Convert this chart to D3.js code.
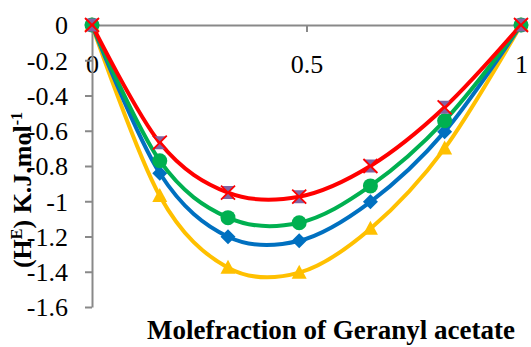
<!DOCTYPE html>
<html>
<head>
<meta charset="utf-8">
<script src="https://cdn.jsdelivr.net/npm/d3@7"></script>
<style>
  body { margin: 0; background: #fff; }
  text { font-family: "Liberation Serif", "Times New Roman", serif; }
</style>
</head>
<body>
<div id="chart"></div>
<script>
// mole fraction of geranyl acetate
var moleFrac = [0, 0.158, 0.317, 0.483, 0.649, 0.822, 1];

// excess enthalpy series (KJ/mol)
var hYellow = [0, -0.970, -1.377, -1.405, -1.156, -0.700, 0];
var hBlue   = [0, -0.841, -1.201, -1.224, -1.003, -0.605, 0];
var hGreen  = [0, -0.770, -1.093, -1.122, -0.913, -0.543, 0];
var hRed    = [0, -0.668, -0.951, -0.974, -0.800, -0.467, 0];

var xTicks = [0, 0.5, 1];
var xTickLabels = ["0", "0.5", "1"];
var yTicks = [0, -0.2, -0.4, -0.6, -0.8, -1, -1.2, -1.4, -1.6];
var yTickLabels = ["0", "-0.2", "-0.4", "-0.6", "-0.8", "-1", "-1.2", "-1.4", "-1.6"];

var svgWidth = 531, svgHeight = 347;
var axisColor = "#898989";
var serif = "'Liberation Serif', 'Times New Roman', serif";

var svg = d3.select("#chart").append("svg")
    .attr("width", svgWidth)
    .attr("height", svgHeight);

var x = d3.scaleLinear().domain([0, 1]).range([92, 521]);
var y = d3.scaleLinear().domain([0, -1.6]).range([25, 307]);

// x axis sits at y = 0 (top)
var xAxis = svg.append("g")
    .attr("transform", "translate(0," + y(0) + ")")
    .call(d3.axisBottom(x)
      .tickValues(xTicks)
      .tickFormat(function(d, i) { return xTickLabels[i]; })
      .tickSize(7)
      .tickSizeOuter(0)
      .tickPadding(23));

var yAxis = svg.append("g")
    .attr("transform", "translate(" + x(0) + ",0)")
    .call(d3.axisLeft(y)
      .tickValues(yTicks)
      .tickFormat(function(d, i) { return yTickLabels[i]; })
      .tickSize(7)
      .tickSizeOuter(0)
      .tickPadding(17));

[xAxis, yAxis].forEach(function(g) {
  g.attr("font-family", serif).attr("font-size", 26);
  g.select(".domain").attr("stroke", axisColor).attr("stroke-width", 2);
  g.selectAll(".tick line").attr("stroke", axisColor).attr("stroke-width", 2);
  g.selectAll(".tick text").attr("fill", "#000");
});
// the 0 tick of the x axis is hidden by the y axis in the original
xAxis.selectAll(".tick line").filter(function(d) { return d === 0; }).remove();
yAxis.selectAll(".tick text").attr("dy", "0.34em");

var line = d3.line()
    .x(function(d) { return x(d[0]); })
    .y(function(d) { return y(d[1]); })
    .curve(d3.curveCatmullRom.alpha(0));

var series = [
  {vals: hYellow, color: "#FFC000", marker: "triangle"},
  {vals: hBlue,   color: "#0070C0", marker: "diamond"},
  {vals: hGreen,  color: "#00B050", marker: "circle"},
  {vals: hRed,    color: "#FF0000", marker: "cross"}
];

series.forEach(function(s) {
  var pts = moleFrac.map(function(m, i) { return [m, s.vals[i]]; });
  var g = svg.append("g");

  g.append("path")
    .datum(pts)
    .attr("fill", "none")
    .attr("stroke", s.color)
    .attr("stroke-width", 4)
    .attr("d", line);

  var mk = g.selectAll(".pt").data(pts).enter().append("g")
    .attr("class", "pt")
    .attr("transform", function(d) { return "translate(" + x(d[0]) + "," + y(d[1]) + ")"; });

  if (s.marker === "circle") {
    mk.append("circle").attr("r", 7.5).attr("fill", s.color);
  } else if (s.marker === "diamond") {
    mk.append("path").attr("d", "M0,-7.5L7.5,0L0,7.5L-7.5,0Z").attr("fill", s.color);
  } else if (s.marker === "triangle") {
    mk.append("path").attr("d", "M0,-8L7.5,6L-7.5,6Z").attr("fill", s.color);
  } else {
    mk.append("path").attr("d", "M-7,-6.5L7,-6.5L0,0L7,6.5L-7,6.5L0,0Z").attr("fill", "#8064A2");
    mk.append("path").attr("d", "M-7,-7L7,7M7,-7L-7,7")
      .attr("stroke", s.color).attr("stroke-width", 1.8).attr("fill", "none");
  }
});

// axis titles
svg.append("text")
    .attr("x", 331)
    .attr("y", 339)
    .attr("text-anchor", "middle")
    .attr("font-family", serif)
    .attr("font-size", 27)
    .attr("font-weight", "bold")
    .text("Molefraction of Geranyl acetate");

var yTitle = svg.append("text")
    .attr("transform", "translate(31,190) rotate(-90)")
    .attr("text-anchor", "middle")
    .attr("font-family", serif)
    .attr("font-size", 26)
    .attr("font-weight", "bold");
yTitle.append("tspan").text("(H");
yTitle.append("tspan").attr("dy", -9).attr("font-size", 16).text("E");
yTitle.append("tspan").attr("dy", 9).text(") K.J.mol");
yTitle.append("tspan").attr("dy", -9).attr("font-size", 16).text("-1");
</script>
</body>
</html>
